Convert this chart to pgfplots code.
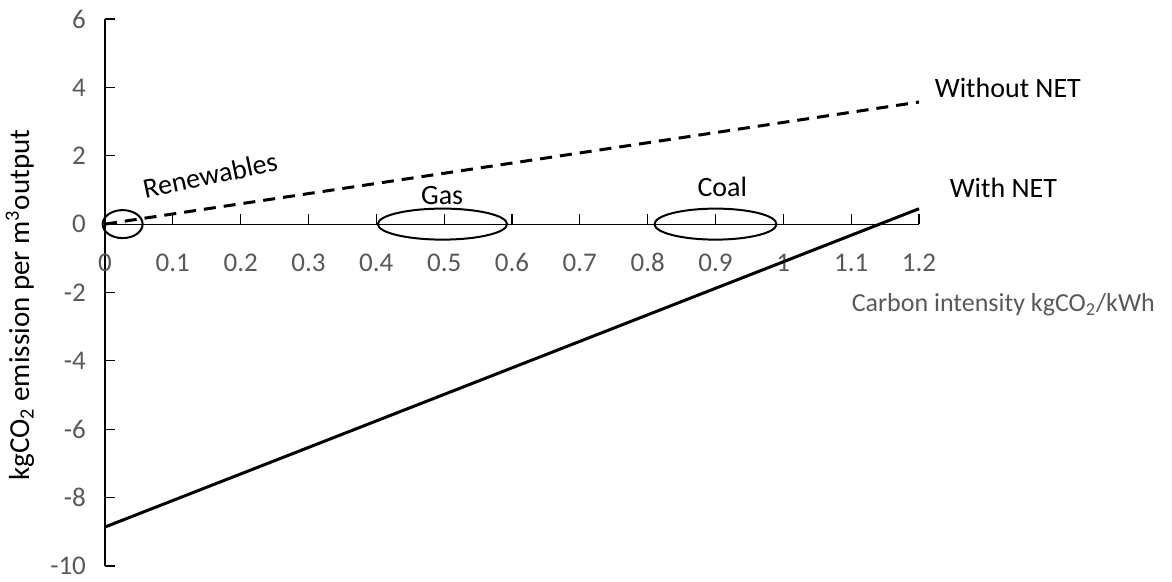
\documentclass[border=0pt]{standalone}
\usepackage{fontspec}
\setmainfont{Carlito}
\usepackage{pgfplots}
\pgfplotsset{compat=1.18}
\definecolor{tickgray}{HTML}{595959}
\begin{document}
\begin{tikzpicture}
\path[use as bounding box] (-52.5pt,-8pt) rectangle (533.5pt,283pt);
\begin{axis}[
  at={(0,0)}, anchor=south west,
  scale only axis, width=407pt, height=273.5pt,
  xmin=0, xmax=1.2, ymin=-10, ymax=6,
  axis x line=middle, axis y line=left,
  axis line style={line width=0.6pt, -},
  xtick={0,0.1,0.2,0.3,0.4,0.5,0.6,0.7,0.8,0.9,1,1.1,1.2},
  xticklabels={0,0.1,0.2,0.3,0.4,0.5,0.6,0.7,0.8,0.9,1,1.1,1.2},
  ytick={-10,-8,-6,-4,-2,0,2,4,6},
  yticklabels={-10,-8,-6,-4,-2,0,2,4,6},
  tick align=inside, major tick length=5pt,
  tick style={black, line width=0.6pt},
  hide obscured x ticks=false, hide obscured y ticks=false,
  ticklabel style={font=\fontsize{13.5}{15}\selectfont, text=tickgray},
  xticklabel style={yshift=-11pt, anchor=north, text height=9pt, text depth=0pt},
  yticklabel style={xshift=-6pt},
  ylabel={kgCO\textsubscript{2} emission per m\textsuperscript{3}output},
  ylabel style={at={(axis description cs:-0.1045,0.477)}, anchor=center, font=\fontsize{14.5}{16}\selectfont, text=black},
  clip=false,
]
\addplot[black, line width=1.5pt, dash pattern=on 6pt off 4pt] coordinates {(0,0) (1.2,3.57)};
\addplot[black, line width=1.5pt] coordinates {(0,-8.86) (1.2,0.45)};
\draw[black, line width=1pt] (axis cs:0.026,0) ellipse [x radius=10pt, y radius=7pt];
\draw[black, line width=1pt] (axis cs:0.4975,0) ellipse [x radius=32.3pt, y radius=7.75pt];
\draw[black, line width=1pt] (axis cs:0.9,0) ellipse [x radius=30.5pt, y radius=7.75pt];
\node[font=\fontsize{14}{16}\selectfont, anchor=west] at (axis cs:1.213,3.98) {Without NET};
\node[font=\fontsize{14}{16}\selectfont, anchor=west] at (axis cs:1.235,1.05) {With NET};
\node[font=\fontsize{14}{16}\selectfont] at (axis cs:0.91,1.08) {Coal};
\node[font=\fontsize{14}{16}\selectfont] at (axis cs:0.497,0.85) {Gas};
\node[font=\fontsize{14}{16}\selectfont, rotate=12] at (axis cs:0.155,1.43) {Renewables};
\node[font=\fontsize{13}{15}\selectfont, text=tickgray, anchor=east] at (axis cs:1.558,-2.37) {Carbon intensity kgCO\textsubscript{2}/kWh};
\end{axis}
\end{tikzpicture}
\end{document}
